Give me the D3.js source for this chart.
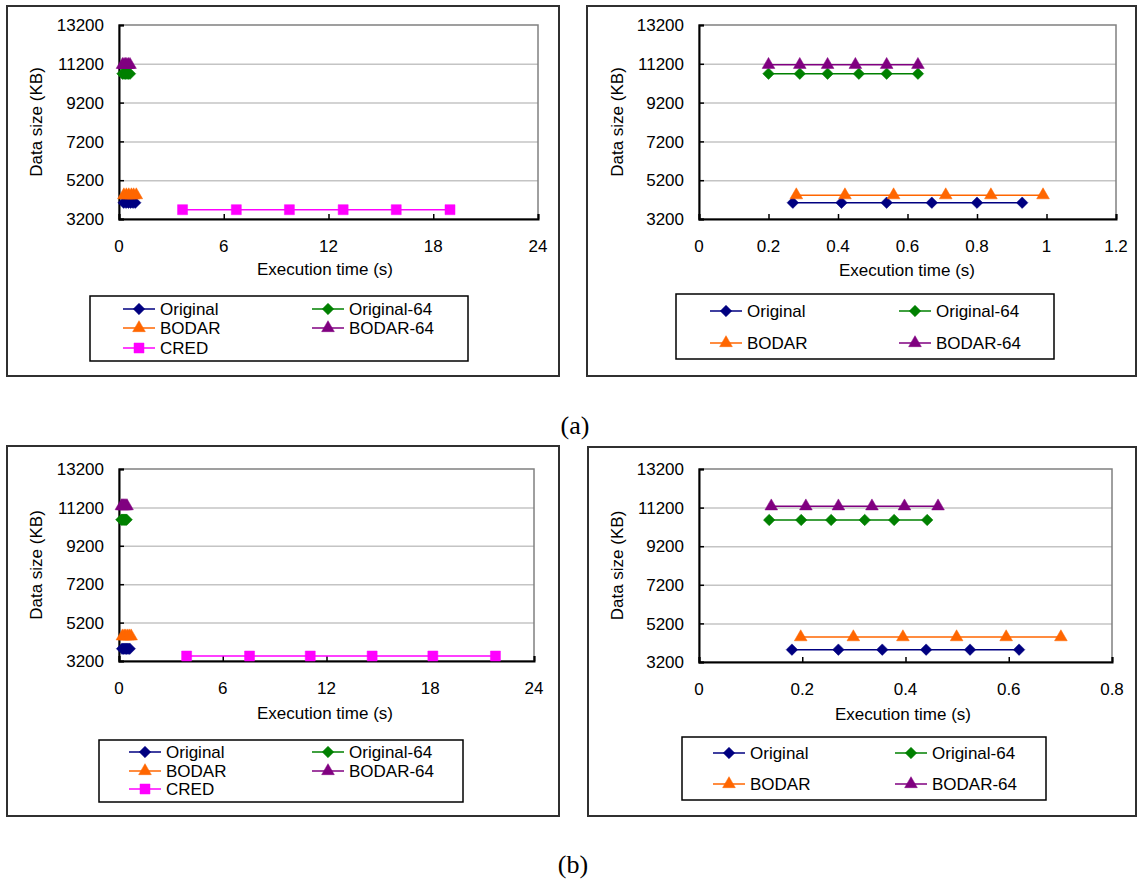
<!DOCTYPE html>
<html>
<head>
<meta charset="utf-8">
<script src="https://cdn.jsdelivr.net/npm/d3@7"></script>
<style>
body { margin: 0; background: #fff; }
text { font-family: "Liberation Sans", Arial, sans-serif; fill: #000; }
</style>
</head>
<body>
<svg id="chart" width="1137" height="883"></svg>
<script>
// ---- data ----
const seriesNames = ["Original", "Original-64", "BODAR", "BODAR-64", "CRED"];
const seriesColors = ["#000080", "#008000", "#FF6600", "#800080", "#FF00FF"];
const seriesSymbols = ["diamond", "diamond", "triangle", "triangle", "square"];

const yTicks = [3200, 5200, 7200, 9200, 11200, 13200];

// (a)
const aOriginalX   = [0.27, 0.41, 0.54, 0.67, 0.80, 0.93];
const aOriginalY   = [4040, 4040, 4040, 4040, 4040, 4040];
const aOriginal64X = [0.20, 0.29, 0.37, 0.46, 0.54, 0.63];
const aOriginal64Y = [10690, 10690, 10690, 10690, 10690, 10690];
const aBodarX      = [0.28, 0.42, 0.56, 0.71, 0.84, 0.99];
const aBodarY      = [4430, 4430, 4430, 4430, 4430, 4430];
const aBodar64X    = [0.20, 0.29, 0.37, 0.45, 0.54, 0.63];
const aBodar64Y    = [11150, 11150, 11150, 11150, 11150, 11150];
const aCredX       = [3.64, 6.72, 9.76, 12.84, 15.88, 18.96];
const aCredY       = [3680, 3680, 3680, 3680, 3680, 3680];

// (b)
const bOriginalX   = [0.18, 0.27, 0.355, 0.44, 0.525, 0.62];
const bOriginalY   = [3840, 3840, 3840, 3840, 3840, 3840];
const bOriginal64X = [0.136, 0.198, 0.256, 0.321, 0.378, 0.442];
const bOriginal64Y = [10560, 10560, 10560, 10560, 10560, 10560];
const bBodarX      = [0.197, 0.299, 0.395, 0.499, 0.595, 0.701];
const bBodarY      = [4490, 4490, 4490, 4490, 4490, 4490];
const bBodar64X    = [0.14, 0.207, 0.27, 0.335, 0.398, 0.463];
const bBodar64Y    = [11270, 11270, 11270, 11270, 11270, 11270];
const bCredX       = [3.91, 7.55, 11.06, 14.64, 18.15, 21.77];
const bCredY       = [3460, 3460, 3460, 3460, 3460, 3460];

const xTicksWide = [0, 6, 12, 18, 24];
const xTicksA = [0, 0.2, 0.4, 0.6, 0.8, 1, 1.2];
const xTicksB = [0, 0.2, 0.4, 0.6, 0.8];

function zipSeries(xs, ys) { return xs.map(function(x, i) { return { x: x, y: ys[i] }; }); }

const aSeries = [zipSeries(aOriginalX, aOriginalY), zipSeries(aOriginal64X, aOriginal64Y),
                 zipSeries(aBodarX, aBodarY), zipSeries(aBodar64X, aBodar64Y), zipSeries(aCredX, aCredY)];
const bSeries = [zipSeries(bOriginalX, bOriginalY), zipSeries(bOriginal64X, bOriginal64Y),
                 zipSeries(bBodarX, bBodarY), zipSeries(bBodar64X, bBodar64Y), zipSeries(bCredX, bCredY)];

// ---- layout for the four panels ----
const panels = [
  { frame: [7, 6, 559, 376], plot: [119, 25, 538, 219], xDomain: [0, 24], xTicks: xTicksWide,
    series: aSeries, which: [0, 1, 2, 3, 4],
    legend: { box: [90, 296, 468, 361], rows: [309, 328, 348], cols: [139, 328] },
    xTitle: [325, 269], yTitleX: 36 },
  { frame: [587, 6, 1136, 376], plot: [699, 25, 1116, 219], xDomain: [0, 1.2], xTicks: xTicksA,
    series: aSeries, which: [0, 1, 2, 3],
    legend: { box: [676, 294, 1054, 359], rows: [311, 343], cols: [726, 915] },
    xTitle: [907, 270], yTitleX: 617 },
  { frame: [7, 446, 559, 816], plot: [119, 469, 534, 661], xDomain: [0, 24], xTicks: xTicksWide,
    series: bSeries, which: [0, 1, 2, 3, 4],
    legend: { box: [99, 740, 463, 802], rows: [752, 771, 789], cols: [145, 328] },
    xTitle: [325, 713], yTitleX: 36 },
  { frame: [588, 447, 1136, 816], plot: [699, 469, 1112, 662], xDomain: [0, 0.8], xTicks: xTicksB,
    series: bSeries, which: [0, 1, 2, 3],
    legend: { box: [682, 737, 1046, 800], rows: [753, 784], cols: [729, 911] },
    xTitle: [903, 714], yTitleX: 617 }
];

const svg = d3.select("#chart");

function symbolPath(kind) {
  if (kind === "triangle") return d3.symbol().type(d3.symbolTriangle).size(70)();
  if (kind === "square") return d3.symbol().type(d3.symbolSquare).size(100)();
  return d3.symbol().type(d3.symbolSquare).size(66)();
}

function drawMarker(g, kind, color, x, y) {
  g.append("path")
    .attr("d", symbolPath(kind))
    .attr("fill", color)
    .attr("stroke", color)
    .attr("stroke-width", 0.5)
    .attr("transform", "translate(" + x + "," + y + ")" + (kind === "diamond" ? " rotate(45)" : ""));
}

function drawPanel(p) {
  var g = svg.append("g");

  // outer frame
  g.append("rect")
    .attr("x", p.frame[0]).attr("y", p.frame[1])
    .attr("width", p.frame[2] - p.frame[0]).attr("height", p.frame[3] - p.frame[1])
    .attr("fill", "none").attr("stroke", "#303030").attr("stroke-width", 2);

  var x = d3.scaleLinear().domain(p.xDomain).range([p.plot[0], p.plot[2]]);
  var y = d3.scaleLinear().domain([3200, 13200]).range([p.plot[3], p.plot[1]]);

  // gridlines
  g.append("g")
    .attr("transform", "translate(" + p.plot[0] + ",0)")
    .call(d3.axisRight(y).tickValues(yTicks.slice(1, -1)).tickSize(p.plot[2] - p.plot[0]).tickFormat(""))
    .call(function(s) { s.select(".domain").remove(); })
    .selectAll("line").attr("stroke", "#c4c4c4").attr("stroke-width", 1.5);

  // plot area border (gray)
  g.append("rect")
    .attr("x", p.plot[0]).attr("y", p.plot[1])
    .attr("width", p.plot[2] - p.plot[0]).attr("height", p.plot[3] - p.plot[1])
    .attr("fill", "none").attr("stroke", "#808080").attr("stroke-width", 1.5);

  // y axis
  var ya = g.append("g")
    .attr("transform", "translate(" + p.plot[0] + ",0)")
    .call(d3.axisRight(y).tickValues(yTicks).tickSize(5).tickFormat(""));
  ya.select(".domain").attr("stroke", "#000").attr("stroke-width", 2);
  ya.selectAll("line").attr("stroke", "#000").attr("stroke-width", 1.5);
  g.selectAll(".ylab").data(yTicks).enter().append("text")
    .attr("x", p.plot[0] - 15).attr("y", function(d) { return y(d); })
    .attr("dy", "0.36em").attr("text-anchor", "end")
    .style("font-size", "17px").text(function(d) { return d; });

  // x axis
  var xa = g.append("g")
    .attr("transform", "translate(0," + p.plot[3] + ")")
    .call(d3.axisTop(x).tickValues(p.xTicks).tickSize(5).tickFormat(""));
  xa.select(".domain").attr("stroke", "#000").attr("stroke-width", 2);
  xa.selectAll("line").attr("stroke", "#000").attr("stroke-width", 1.5);
  g.selectAll(".xlab").data(p.xTicks).enter().append("text")
    .attr("x", function(d) { return x(d); }).attr("y", p.plot[3] + 27)
    .attr("dy", "0.36em").attr("text-anchor", "middle")
    .style("font-size", "17px").text(function(d) { return d; });

  // axis titles
  g.append("text")
    .attr("x", p.xTitle[0]).attr("y", p.xTitle[1]).attr("dy", "0.36em")
    .attr("text-anchor", "middle").style("font-size", "17px")
    .text("Execution time (s)");
  g.append("text")
    .attr("transform", "translate(" + p.yTitleX + "," + ((p.plot[1] + p.plot[3]) / 2) + ") rotate(-90)")
    .attr("dy", "0.36em").attr("text-anchor", "middle").style("font-size", "17px")
    .text("Data size (KB)");

  // series
  var line = d3.line().x(function(d) { return x(d.x); }).y(function(d) { return y(d.y); });
  p.which.forEach(function(si) {
    var data = p.series[si];
    g.append("path").datum(data)
      .attr("fill", "none").attr("stroke", seriesColors[si]).attr("stroke-width", 1.5)
      .attr("d", line);
  });
  p.which.forEach(function(si) {
    p.series[si].forEach(function(d) {
      drawMarker(g, seriesSymbols[si], seriesColors[si], x(d.x), y(d.y));
    });
  });

  // legend
  var L = p.legend;
  g.append("rect")
    .attr("x", L.box[0]).attr("y", L.box[1])
    .attr("width", L.box[2] - L.box[0]).attr("height", L.box[3] - L.box[1])
    .attr("fill", "#fff").attr("stroke", "#000").attr("stroke-width", 1.5);
  p.which.forEach(function(si, i) {
    var cx = L.cols[i % 2], cy = L.rows[Math.floor(i / 2)];
    g.append("line")
      .attr("x1", cx - 16).attr("x2", cx + 16).attr("y1", cy).attr("y2", cy)
      .attr("stroke", seriesColors[si]).attr("stroke-width", 1.5);
    drawMarker(g, seriesSymbols[si], seriesColors[si], cx, cy);
    g.append("text")
      .attr("x", cx + 21).attr("y", cy).attr("dy", "0.36em")
      .style("font-size", "17px").text(seriesNames[si]);
  });
}

panels.forEach(drawPanel);

// captions
svg.append("text").attr("x", 575).attr("y", 425).attr("dy", "0.36em")
  .attr("text-anchor", "middle")
  .style("font-family", "'Liberation Serif', 'Times New Roman', serif").style("font-size", "26px")
  .text("(a)");
svg.append("text").attr("x", 573).attr("y", 864).attr("dy", "0.36em")
  .attr("text-anchor", "middle")
  .style("font-family", "'Liberation Serif', 'Times New Roman', serif").style("font-size", "26px")
  .text("(b)");
</script>
</body>
</html>
